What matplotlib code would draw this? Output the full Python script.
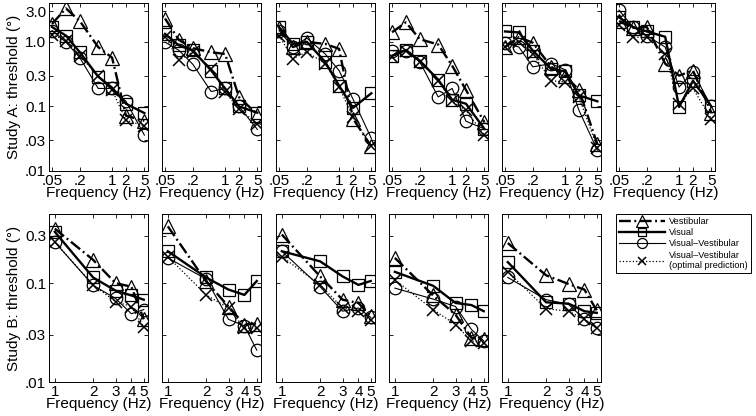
import numpy as np
import matplotlib
matplotlib.use("Agg")
import matplotlib.pyplot as plt

plt.rcParams['font.family'] = ['Liberation Sans', 'DejaVu Sans']

# Study A: frequencies (Hz) and thresholds (deg), one row per subject
freq_a = [0.05, 0.1, 0.2, 0.5, 1, 2, 5]
vest_a = [
    [1.9, 3.3, 2.1, 0.83, 0.57, 0.072, 0.06],
    [2.3, 1.07, 0.8, 0.69, 0.65, 0.14, 0.075],
    [1.65, 0.83, 1.0, 0.93, 0.78, 0.065, 0.024],
    [1.41, 2.0, 1.1, 0.91, 0.43, 0.18, 0.057],
    [0.83, 1.18, 0.97, 0.41, 0.3, 0.18, 0.026],
    [2.1, 1.65, 1.7, 0.46, 0.3, 0.36, 0.08],
]
vis_a = [
    [1.7, 1.25, 0.69, 0.29, 0.195, 0.11, 0.079],
    [1.33, 0.88, 0.74, 0.36, 0.19, 0.1, 0.08],
    [1.7, 0.93, 1.0, 0.49, 0.21, 0.095, 0.16],
    [0.61, 0.75, 0.51, 0.26, 0.127, 0.11, 0.045],
    [1.45, 1.4, 0.73, 0.38, 0.35, 0.148, 0.12],
    [2.4, 1.7, 1.45, 1.2, 0.098, 0.25, 0.1],
]
comb_a = [
    [1.5, 0.99, 0.57, 0.19, 0.19, 0.12, 0.036],
    [0.99, 0.74, 0.45, 0.17, 0.19, 0.1, 0.044],
    [1.5, 0.83, 1.15, 0.65, 0.36, 0.13, 0.032],
    [0.73, 0.72, 0.49, 0.14, 0.19, 0.059, 0.045],
    [0.97, 0.83, 0.41, 0.46, 0.37, 0.087, 0.021],
    [3.1, 1.7, 1.25, 0.83, 0.2, 0.34, 0.1],
]
opt_a = [
    [1.3, 1.05, 0.6, 0.3, 0.18, 0.061, 0.05],
    [1.2, 0.52, 0.7, 0.38, 0.17, 0.09, 0.054],
    [1.25, 0.55, 0.7, 0.46, 0.2, 0.068, 0.024],
    [0.58, 0.73, 0.49, 0.25, 0.12, 0.087, 0.036],
    [0.83, 1.0, 0.65, 0.25, 0.24, 0.14, 0.023],
    [1.85, 1.18, 1.18, 0.65, 0.11, 0.19, 0.064],
]

# Study B
freq_b = [1, 2, 3, 4, 5]
vest_b = [
    [0.355, 0.172, 0.1, 0.092, 0.043],
    [0.375, 0.104, 0.058, 0.038, 0.039],
    [0.31, 0.117, 0.068, 0.063, 0.046],
    [0.18, 0.075, 0.048, 0.028, 0.027],
    [0.254, 0.12, 0.098, 0.086, 0.053],
]
vis_b = [
    [0.33, 0.114, 0.084, 0.075, 0.068],
    [0.21, 0.114, 0.086, 0.076, 0.105],
    [0.21, 0.166, 0.117, 0.096, 0.105],
    [0.13, 0.094, 0.063, 0.06, 0.052],
    [0.163, 0.064, 0.062, 0.052, 0.05],
]
comb_b = [
    [0.26, 0.095, 0.07, 0.049, 0.054],
    [0.18, 0.11, 0.043, 0.037, 0.021],
    [0.21, 0.092, 0.052, 0.056, 0.045],
    [0.089, 0.069, 0.058, 0.034, 0.026],
    [0.114, 0.068, 0.061, 0.043, 0.035],
]
opt_b = [
    [0.26, 0.096, 0.065, 0.058, 0.036],
    [0.185, 0.076, 0.056, 0.035, 0.035],
    [0.185, 0.096, 0.056, 0.052, 0.042],
    [0.108, 0.054, 0.038, 0.026, 0.025],
    [0.13, 0.055, 0.052, 0.043, 0.035],
]

labels = ['Vestibular', 'Visual', 'Visual\u2013Vestibular',
          'Visual\u2013Vestibular\n(optimal prediction)']
styles = [
    dict(ls=(0, (5, 1.5, 0.8, 1.5)), lw=1.7, marker='^', ms=10, mew=0.9),
    dict(ls='-', lw=1.7, marker='s', ms=8, mew=0.9),
    dict(ls='-', lw=0.8, marker='o', ms=9, mew=0.9),
    dict(ls=':', lw=0.9, marker='x', ms=8, mew=1.1),
]

W, H = 756, 416
fig = plt.figure(figsize=(W / 100, H / 100), dpi=100)
lefts = [49, 162, 276, 389, 502, 616]
fs = 11


def draw(ax, x, sets):
    handles = []
    for y, st in zip(sets, styles):
        h, = ax.plot(x, y, color='k', mfc='none', mec='k', **st)
        handles.append(h)
    ax.set_xscale('log')
    ax.set_yscale('log')
    ax.minorticks_off()
    ax.tick_params(direction='in', top=True, right=True, length=3,
                   width=0.6, labelsize=fs, pad=2)
    for s in ax.spines.values():
        s.set_linewidth(0.7)
    return handles


for i in range(6):
    ax = fig.add_axes([lefts[i] / W, (H - 171) / H, 99 / W, 168 / H])
    draw(ax, freq_a, [vest_a[i], vis_a[i], comb_a[i], opt_a[i]])
    ax.set_xlim(0.043, 6.0)
    ax.set_ylim(0.01, 4.0)
    ax.set_xticks([0.05, 0.2, 1, 2, 5])
    ax.set_xticklabels(['.05', '.2', '1', '2', '5'])
    ax.set_yticks([0.01, 0.03, 0.1, 0.3, 1, 3])
    if i == 0:
        ax.set_yticklabels(['.01', '.03', '0.1', '0.3', '1.0', '3.0'])
        ax.set_ylabel('Study A: threshold (\u00b0)', fontsize=fs, labelpad=3)
    else:
        ax.set_yticklabels([])
    ax.set_xlabel('Frequency (Hz)', fontsize=fs, labelpad=-1)

for i in range(5):
    ax = fig.add_axes([lefts[i] / W, (H - 382) / H, 99 / W, 168 / H])
    hs = draw(ax, freq_b, [vest_b[i], vis_b[i], comb_b[i], opt_b[i]])
    ax.set_xlim(0.9, 5.4)
    ax.set_ylim(0.01, 0.5)
    ax.set_xticks(freq_b)
    ax.set_xticklabels([str(f) for f in freq_b])
    ax.set_yticks([0.01, 0.03, 0.1, 0.3])
    if i == 0:
        ax.set_yticklabels(['.01', '.03', '0.1', '0.3'])
        ax.set_ylabel('Study B: threshold (\u00b0)', fontsize=fs, labelpad=3)
    else:
        ax.set_yticklabels([])
    ax.set_xlabel('Frequency (Hz)', fontsize=fs, labelpad=-1)

leg = fig.legend(hs, labels, loc='upper left',
                 bbox_to_anchor=(616 / W, 1 - 214 / H), borderaxespad=0,
                 fontsize=6.6, handlelength=5.0, fancybox=False,
                 edgecolor='k', framealpha=1, labelspacing=0.25,
                 borderpad=0.3, handletextpad=0.5, markerscale=0.8)
leg.get_frame().set_linewidth(0.7)

fig.savefig('out.png', dpi=100)
